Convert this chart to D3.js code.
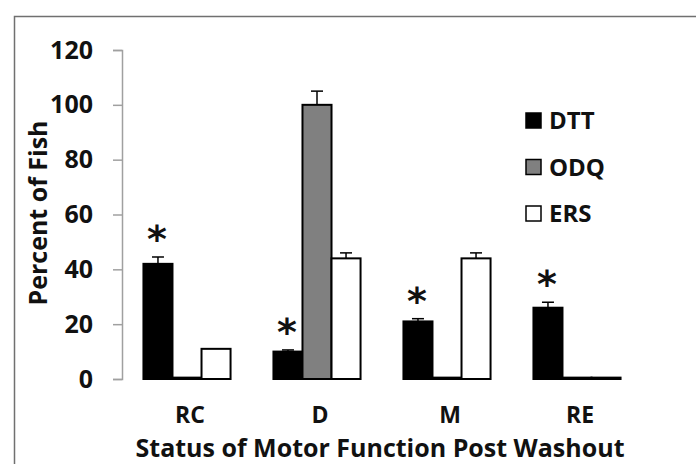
<!DOCTYPE html>
<html>
<head>
<meta charset="utf-8">
<script src="https://cdn.jsdelivr.net/npm/d3@7"></script>
<style>
  body { margin: 0; background: #fff; }
  text { font-family: "Open Sans", sans-serif; font-weight: 700; fill: #111; }
</style>
</head>
<body>
<div class="chartCont"></div>
<script>
var w = 696;
var h = 464;

// data
const categories = ["RC", "D", "M", "RE"];
const seriesNames = ["DTT", "ODQ", "ERS"];
const dtt = [42, 10, 21, 26];
const odq = [0.5, 100, 0.5, 0.5];
const ers = [11, 44, 44, 0.5];
const dttErr = [2.5, 0.6, 1, 2];
const odqErr = [0, 5, 0, 0];
const ersErr = [0, 2, 2, 0];
const significant = [true, true, true, true]; // asterisks over DTT
const yTicks = [0, 20, 40, 60, 80, 100, 120];

const colors = ["#000000", "#808080", "#ffffff"];
const values = [dtt, odq, ers];
const errors = [dttErr, odqErr, ersErr];

var svg = d3.select(".chartCont").append("svg")
    .attr("width", w)
    .attr("height", h);

// outer frame (cropped on right/bottom)
svg.append("rect")
    .attr("x", 14.5).attr("y", 16.5)
    .attr("width", w).attr("height", h)
    .attr("fill", "none")
    .attr("stroke", "#707070")
    .attr("stroke-width", 1.5);

var x0 = d3.scaleBand()
    .domain(categories)
    .range([122, 642])
    .paddingInner(0.33)
    .paddingOuter(0.165);

var x1 = d3.scaleBand()
    .domain(seriesNames)
    .range([0, x0.bandwidth()])
    .padding(0);

var y = d3.scaleLinear()
    .domain([0, 120])
    .range([379, 50]);

// y axis
var yAxis = svg.append("g")
    .attr("transform", "translate(122,0)")
    .call(d3.axisLeft(y).tickValues(yTicks).tickSize(9).tickPadding(20));
yAxis.select(".domain").attr("stroke", "#a0a0a0").attr("stroke-width", 1.5);
yAxis.selectAll(".tick line").attr("stroke", "#a0a0a0").attr("stroke-width", 1.5);
yAxis.selectAll(".tick text")
    .attr("font-family", "Open Sans, sans-serif")
    .attr("font-weight", 700)
    .attr("font-size", 25)
    .attr("fill", "#111");

// bars
const rows = [];
categories.forEach((c, i) => {
  seriesNames.forEach((s, j) => {
    rows.push({cat: c, ser: s, v: values[j][i], e: errors[j][i], color: colors[j]});
  });
});

svg.selectAll("rect.bar")
    .data(rows)
    .enter()
    .append("rect")
    .attr("class", "bar")
    .attr("x", d => x0(d.cat) + x1(d.ser))
    .attr("y", d => y(d.v))
    .attr("width", x1.bandwidth())
    .attr("height", d => y(0) - y(d.v))
    .attr("fill", d => d.color)
    .attr("stroke", "#000")
    .attr("stroke-width", 2);

// error bars
const errRows = rows.filter(d => d.e > 0);
svg.selectAll("line.err")
    .data(errRows)
    .enter()
    .append("line")
    .attr("class", "err")
    .attr("x1", d => x0(d.cat) + x1(d.ser) + x1.bandwidth() / 2)
    .attr("x2", d => x0(d.cat) + x1(d.ser) + x1.bandwidth() / 2)
    .attr("y1", d => y(d.v))
    .attr("y2", d => y(d.v + d.e))
    .attr("stroke", "#000")
    .attr("stroke-width", 1.5);
svg.selectAll("line.cap")
    .data(errRows)
    .enter()
    .append("line")
    .attr("class", "cap")
    .attr("x1", d => x0(d.cat) + x1(d.ser) + x1.bandwidth() / 2 - 6)
    .attr("x2", d => x0(d.cat) + x1(d.ser) + x1.bandwidth() / 2 + 6)
    .attr("y1", d => y(d.v + d.e))
    .attr("y2", d => y(d.v + d.e))
    .attr("stroke", "#000")
    .attr("stroke-width", 1.5);

// asterisks
svg.selectAll("text.star")
    .data(categories.filter((c, i) => significant[i]))
    .enter()
    .append("text")
    .attr("class", "star")
    .attr("x", c => x0(c) + x1("DTT") + x1.bandwidth() / 2 - 1)
    .attr("y", c => {
      const i = categories.indexOf(c);
      return y(dtt[i] + dttErr[i]) - 5;
    })
    .attr("text-anchor", "middle")
    .attr("font-size", 38)
    .attr("font-weight", 700)
    .style("font-family", "DejaVu Sans, sans-serif")
    .text("*");

// category labels
svg.selectAll("text.cat")
    .data(categories)
    .enter()
    .append("text")
    .attr("class", "cat")
    .attr("x", c => x0(c) + x0.bandwidth() / 2 + 3)
    .attr("y", 423)
    .attr("text-anchor", "middle")
    .attr("font-size", 23)
    .text(c => c);

// axis titles
svg.append("text")
    .attr("x", 380)
    .attr("y", 457)
    .attr("text-anchor", "middle")
    .attr("font-size", 25)
    .text("Status of Motor Function Post Washout");

svg.append("text")
    .attr("transform", "translate(47,213) rotate(-90)")
    .attr("text-anchor", "middle")
    .attr("font-size", 25)
    .text("Percent of Fish");

// legend
var legend = svg.selectAll("g.leg")
    .data(seriesNames)
    .enter()
    .append("g")
    .attr("class", "leg")
    .attr("transform", (d, i) => "translate(525," + (112 + i * 46.5) + ")");
legend.append("rect")
    .attr("x", 1).attr("y", 1)
    .attr("width", 15).attr("height", 15)
    .attr("fill", (d, i) => colors[i])
    .attr("stroke", "#000")
    .attr("stroke-width", 1.5);
legend.append("text")
    .attr("x", 24)
    .attr("y", 17)
    .attr("font-size", 24)
    .text(d => d);
</script>
</body>
</html>
